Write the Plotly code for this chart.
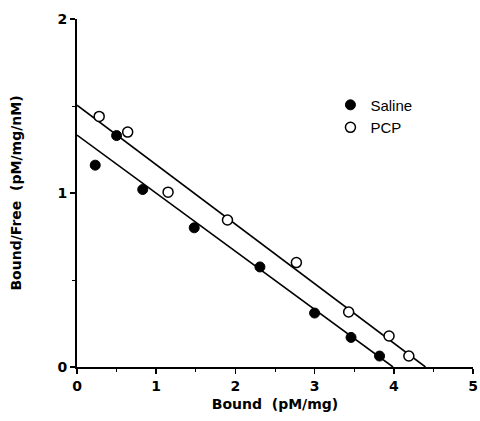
import plotly.graph_objects as go

# Data (Scatchard plot)
saline_x = [0.23, 0.50, 0.83, 1.48, 2.31, 3.00, 3.46, 3.82]
saline_y = [1.16, 1.33, 1.02, 0.80, 0.575, 0.31, 0.17, 0.063]
pcp_x = [0.28, 0.64, 1.15, 1.90, 2.77, 3.43, 3.94, 4.19]
pcp_y = [1.44, 1.35, 1.005, 0.845, 0.60, 0.316, 0.178, 0.063]

# Fitted regression lines (endpoints)
saline_fit_x = [0.0, 3.99]
saline_fit_y = [1.333, 0.0]
pcp_fit_x = [0.0, 4.40]
pcp_fit_y = [1.505, 0.0]

x_ticks = [0, 1, 2, 3, 4, 5]
y_ticks = [0, 1, 2]

FONT = "Liberation Sans, Arial, Helvetica, sans-serif"
BOLD = "DejaVu Sans, Liberation Sans, sans-serif"

fig = go.Figure()
fig.add_trace(go.Scatter(x=saline_fit_x, y=saline_fit_y, mode="lines",
                         line=dict(color="black", width=1.6), showlegend=False,
                         hoverinfo="skip", cliponaxis=False))
fig.add_trace(go.Scatter(x=pcp_fit_x, y=pcp_fit_y, mode="lines",
                         line=dict(color="black", width=1.6), showlegend=False,
                         hoverinfo="skip", cliponaxis=False))
fig.add_trace(go.Scatter(x=saline_x, y=saline_y, mode="markers", name="Saline",
                         marker=dict(symbol="circle", size=10, color="black",
                                     line=dict(color="black", width=1)),
                         cliponaxis=False))
fig.add_trace(go.Scatter(x=pcp_x, y=pcp_y, mode="markers", name="PCP",
                         marker=dict(symbol="circle", size=10, color="white",
                                     line=dict(color="black", width=1.5)),
                         cliponaxis=False))

fig.update_layout(
    width=480, height=421,
    margin=dict(l=77, r=7, t=19, b=54),
    paper_bgcolor="white", plot_bgcolor="white",
    font=dict(family=FONT, color="black", size=14),
    showlegend=True,
    legend=dict(x=0.64, y=0.80, xanchor="left", yanchor="top",
                bgcolor="rgba(0,0,0,0)", font=dict(size=15, family=FONT),
                tracegroupgap=4),
)
fig.update_xaxes(
    range=[0, 5], tickvals=x_ticks, ticktext=[str(v) for v in x_ticks],
    showline=True, linecolor="black", linewidth=2, mirror=False,
    ticks="outside", ticklen=5, tickwidth=1.5, tickcolor="black",
    minor=dict(dtick=0.5, ticks="outside", ticklen=3, tickwidth=1, tickcolor="black"),
    showgrid=False, zeroline=False, automargin=False, ticklabeloverflow="allow",
    tickfont=dict(size=14, family=BOLD, weight="bold"),
    title=dict(text="Bound  (pM/mg)", font=dict(size=14, family=BOLD, weight="bold"),
               standoff=6),
)
fig.update_yaxes(
    range=[0, 2], tickvals=y_ticks, ticktext=[str(v) for v in y_ticks],
    showline=True, linecolor="black", linewidth=2, mirror=False,
    ticks="outside", ticklen=5, tickwidth=1.5, tickcolor="black",
    minor=dict(dtick=0.5, ticks="outside", ticklen=3, tickwidth=1, tickcolor="black"),
    showgrid=False, zeroline=False, automargin=False, ticklabeloverflow="allow",
    tickfont=dict(size=14, family=BOLD, weight="bold"),
    title=dict(text="Bound/Free  (pM/mg/nM)", font=dict(size=14, family=BOLD, weight="bold"),
               standoff=33),
)

fig.write_html(
    "out.html",
    config={"displayModeBar": False, "staticPlot": True},
    post_script="document.documentElement.style.margin='0';"
                "document.body.style.margin='0';"
                "document.body.style.overflow='hidden';",
)
